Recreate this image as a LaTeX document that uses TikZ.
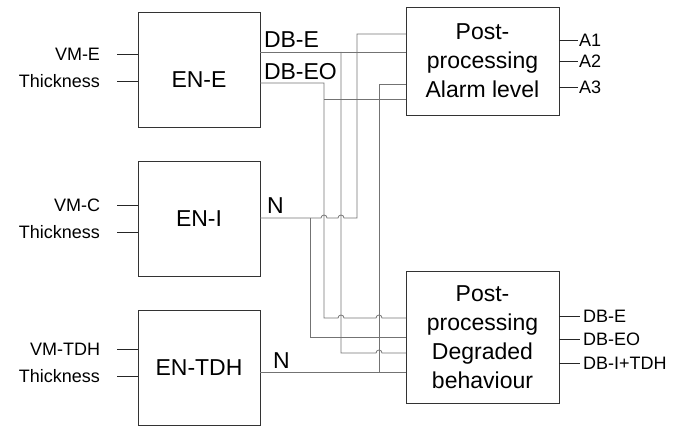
\documentclass[tikz,border=0pt]{standalone}
\usepackage{fontspec}
\setmainfont{Liberation Sans}
\usetikzlibrary{positioning,calc}
\newcommand{\hopover}[1]{-- ($(#1)+(-3,0)$) arc[start angle=180,end angle=0,radius=3pt]}

\begin{document}
\begin{tikzpicture}[x=1pt,y=1pt,
  every node/.style={inner sep=0pt, outer sep=0pt},
  enbox/.style={draw=black!80, line width=0.9pt, minimum width=122pt, minimum height=115pt, font=\fontsize{23}{27}\selectfont},
  ppbox/.style={draw=black!80, line width=0.9pt, minimum width=153pt, align=center, font=\fontsize{23}{29}\selectfont},
  inlbl/.style={anchor=east, font=\fontsize{18}{20}\selectfont},
  buslbl/.style={anchor=base west, font=\fontsize{23}{26}\selectfont},
  outlbl/.style={anchor=west, font=\fontsize{18}{20}\selectfont},
  wire/.style={draw=black!55, line width=0.8pt},
  stub/.style={draw=black!85, line width=0.8pt},
]
\useasboundingbox (0,0) rectangle (687,426);

% ---------------- estimator blocks ----------------
\node[enbox, text height=35.5pt, text depth=0pt] (ene) at (199,356.5) {EN-E};
\node[enbox] (eni)   at (199,207) {EN-I};
\node[enbox] (entdh) at (199,58)  {EN-TDH};

% inputs
\node[inlbl] (vme) at (100,372) {VM-E};
\node[inlbl] (the) at (100,345) {Thickness};
\node[inlbl] (vmc) at (100,221) {VM-C};
\node[inlbl] (thi) at (100,194) {Thickness};
\node[inlbl] (vmt) at (100,77)  {VM-TDH};
\node[inlbl] (tht) at (100,50)  {Thickness};
\foreach \l/\b in {vme/ene,the/ene,vmc/eni,thi/eni,vmt/entdh,tht/entdh}
  \draw[stub] ([xshift=17pt]\l.east) -- (\l.east -| \b.west);

% ---------------- post-processing blocks ----------------
\node[ppbox, minimum height=108pt] (ppa) at (482.5,365) {Post-\\processing\\Alarm level};
\node[ppbox, minimum height=132pt] (ppd) at (482.5,89)  {Post-\\processing\\Degraded\\behaviour};

% outputs
\node[outlbl] (a1) at (579,386) {A1};
\node[outlbl] (a2) at (579,365) {A2};
\node[outlbl] (a3) at (579,339) {A3};
\foreach \o in {a1,a2,a3}
  \draw[stub] (\o.west -| ppa.east) -- ([xshift=-1pt]\o.west);
\node[outlbl] (dbe)  at (583,110) {DB-E};
\node[outlbl] (dbeo) at (583,87)  {DB-EO};
\node[outlbl] (dbit) at (583,63)  {DB-I+TDH};
\foreach \o in {dbe,dbeo,dbit}
  \draw[stub] (\o.west -| ppd.east) -- ([xshift=-3pt]\o.west);

% ---------------- signal labels ----------------
\node[buslbl] (ldbe)  at (264,378) {DB-E};
\node[buslbl] (ldbeo) at (264,346) {DB-EO};
\node[buslbl] (lni)   at (267,212) {N};
\node[buslbl] (lntdh) at (273,58)  {N};

% ports and bus columns
\coordinate (odbe)  at (260,374);
\coordinate (odbeo) at (260,343);
\coordinate (oni)   at (260,208);
\coordinate (otdh)  at (260,54);
\coordinate (pa1) at (406,392);
\coordinate (pa2) at (406,374);
\coordinate (pa3) at (406,342);
\coordinate (pa4) at (406,327);
\coordinate (pd1) at (406,108);
\coordinate (pd2) at (406,89);
\coordinate (pd3) at (406,73);
\coordinate (pd4) at (406,54);
\coordinate (vni)   at (310,0);
\coordinate (vdbeo) at (324,0);
\coordinate (vdbe)  at (341,0);
\coordinate (vnup)  at (357,0);
\coordinate (vtdh)  at (379,0);

% DB-E
\draw[wire] (odbe) -- (pa2);
\draw[wire] (odbe -| vdbe) -- (pd3 -| vdbe) \hopover{pd3 -| vtdh} -- (pd3);
% DB-EO
\draw[wire] (odbeo) -- (odbeo -| vdbeo) -- (pd1 -| vdbeo) \hopover{pd1 -| vdbe} \hopover{pd1 -| vtdh} -- (pd1);
\draw[wire] (pa4 -| vdbeo) -- (pa4);
% N (EN-I)
\draw[wire] (oni) \hopover{oni -| vdbeo} \hopover{oni -| vdbe} -- (oni -| vnup) -- (pa1 -| vnup) -- (pa1);
\draw[wire] (oni -| vni) -- (pd2 -| vni) -- (pd2);
% N (EN-TDH)
\draw[wire] (otdh) -- (pd4);
\draw[wire] (otdh -| vtdh) -- (pa3 -| vtdh) -- (pa3);
\end{tikzpicture}
\end{document}
